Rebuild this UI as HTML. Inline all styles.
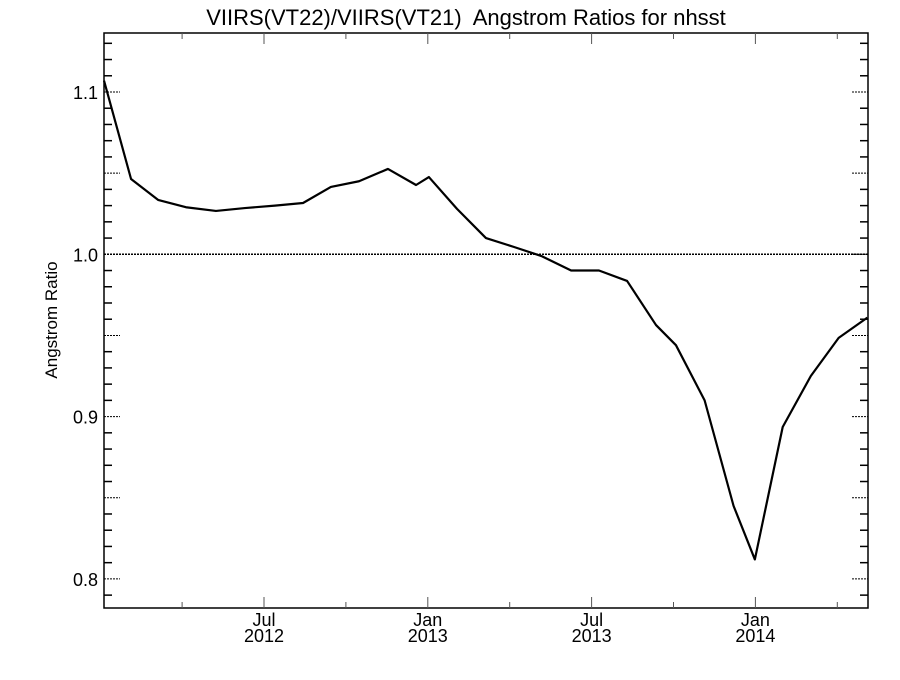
<!DOCTYPE html>
<html><head><meta charset="utf-8"><style>
body{margin:0;background:#fff}
svg text{font-family:"Liberation Sans",sans-serif;fill:#000}
</style></head><body>
<svg id="chart" width="900" height="675" xmlns="http://www.w3.org/2000/svg">
<rect width="900" height="675" fill="#fff"/>
<text x="466" y="25" font-size="22" text-anchor="middle" xml:space="preserve">VIIRS(VT22)/VIIRS(VT21)  Angstrom Ratios for nhsst</text>
<text transform="translate(57,320) rotate(-90)" font-size="17" text-anchor="middle">Angstrom Ratio</text>
<g id="axes"></g>
<g id="series"></g>
</svg>
<script>
// month index: 0 = Jan 2012
const months = [0.14,1.13,2.12,3.14,4.24,5.3,6.4,7.43,8.45,9.48,10.54,11.57,12.04,13.07,14.13,15.16,16.15,17.25,18.27,19.3,20.36,21.09,22.14,23.2,23.98,25.0,26.03,27.05,28.1];
const ratios = [1.107,1.0464,1.0335,1.029,1.0267,1.0285,1.030,1.0316,1.0415,1.045,1.0526,1.0427,1.0476,1.028,1.010,1.0045,0.999,0.990,0.990,0.9836,0.9564,0.944,0.910,0.845,0.812,0.8936,0.925,0.9485,0.961];
const yTicks = [0.8,0.9,1.0,1.1];
const yTickLabels = ["0.8","0.9","1.0","1.1"];
const xTickMonths = [6,12,18,24];
const xTickLabels = [["Jul","2012"],["Jan","2013"],["Jul","2013"],["Jan","2014"]];

const L=104,R=868,T=33,B=608;
const xs=m=>264+(m-6)*27.3;
const ys=v=>254.3-(v-1.0)*1623;
const NS='http://www.w3.org/2000/svg';
const ax=document.getElementById('axes'), se=document.getElementById('series');
function mk(tag,attrs,parent){const e=document.createElementNS(NS,tag);for(const k in attrs)e.setAttribute(k,attrs[k]);parent.appendChild(e);return e;}

const frame=mk('rect',{x:L,y:T,width:R-L,height:B-T,fill:'none',stroke:'#000','stroke-width':1.5},ax);



for(let v=0.79;v<1.14;v+=0.01){
  const y=ys(v); if(y<T||y>B)continue;
  const r=Math.round(v*100);
  if(r%5===0){
    const d1=mk('line',{x1:L,x2:L+16,y1:y,y2:y,stroke:'#000','stroke-dasharray':'2,1'},ax);
    
    
    const d2=mk('line',{x1:R-16,x2:R,y1:y,y2:y,stroke:'#000','stroke-dasharray':'2,1'},ax);
    
    
  } else {
    const t1=mk('line',{x1:L,x2:L+8,y1:y,y2:y,stroke:'#000','stroke-width':1.5},ax);
    
    
    const t2=mk('line',{x1:R-8,x2:R,y1:y,y2:y,stroke:'#000','stroke-width':1.5},ax);
    
    
  }
}
yTicks.forEach((v,i)=>{
  const t=mk('text',{x:L-6,y:ys(v)+7,'font-size':18,'text-anchor':'end'},ax);
  
  
  t.textContent=yTickLabels[i];
});
for(let m=3;m<=27;m+=3){
  const x=xs(m); const major=m%6===0;
  const len=major?11:6;
  const a=mk('line',{x1:x,x2:x,y1:B,y2:B-len,stroke:'#555'},ax);
  
  
  const b=mk('line',{x1:x,x2:x,y1:T,y2:T+len,stroke:'#555'},ax);
  
  
}
xTickMonths.forEach((m,i)=>{
  const t=mk('text',{x:xs(m),y:626,'font-size':18,'text-anchor':'middle'},ax);
  
  
  t.textContent=xTickLabels[i][0];
  const t2=mk('text',{x:xs(m),y:642,'font-size':18,'text-anchor':'middle'},ax);
  
  
  t2.textContent=xTickLabels[i][1];
});
const ref=mk('line',{x1:L,x2:R,y1:ys(1.0),y2:ys(1.0),stroke:'#000','stroke-width':1.5,'stroke-dasharray':'2,1'},ax);


const pts=months.map((m,i)=>Math.max(L,Math.min(R,xs(m)))+','+ys(ratios[i])).join(' ');
const pl=mk('polyline',{points:pts,fill:'none',stroke:'#000','stroke-width':2.2,'stroke-linejoin':'round'},se);


</script>
</body></html>
